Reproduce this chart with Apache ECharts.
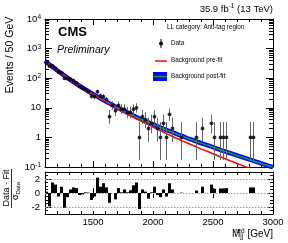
<!DOCTYPE html>
<html><head><meta charset="utf-8">
<script src="https://cdn.jsdelivr.net/npm/echarts@6/dist/echarts.min.js"></script>
<style>html,body{margin:0;padding:0;background:#fff}#c{width:288px;height:243px}</style>
</head><body><div id="c"></div>
<script>
// ---- data ----
const binCenters = [1112.5,1137.5,1162.5,1187.5,1212.5,1237.5,1262.5,1287.5,1312.5,1337.5,
  1362.5,1387.5,1412.5,1437.5,1462.5,1487.5,1512.5,1537.5,1562.5,1587.5,
  1612.5,1637.5,1662.5,1687.5,1712.5,1737.5,1762.5,1787.5,1812.5,1837.5,
  1862.5,1887.5,1912.5,1937.5,1962.5,1987.5,2012.5,2037.5,2062.5,2087.5,
  2112.5,2137.5,2162.5,2187.5,2212.5,2237.5,2262.5,2287.5,2312.5,2337.5,
  2362.5,2387.5,2412.5,2437.5,2462.5,2487.5,2512.5,2537.5,2562.5,2587.5,
  2612.5,2637.5,2662.5,2687.5,2712.5,2737.5,2762.5,2787.5,2812.5,2837.5,
  2862.5,2887.5,2912.5,2937.5,2962.5,2987.5];
const dataCounts = [350,256,263,218,162,154,98,97,93,82,
  70,53,46,42,36,25,24,35,25,24,
  19,5,12,8,12,9,9,7,7,9,
  10,1,5,4,2,3,5,2,1,3,
  1,6,2,null,null,1,null,null,null,null,
  1,null,2,null,null,3,1,null,1,1,
  1,null,null,null,null,null,null,null,1,1,
  null,null,null,null,null,null];
const residuals = [0.2,-1.9,1.5,1.2,-0.5,0.9,-2.1,-0.6,0.5,0.8,
  0.7,-0.3,-0.2,0.1,0.05,-1.0,-0.5,2.2,0.9,1.4,
  0.8,-1.4,0.0,-0.9,0.7,0.1,0.5,0.1,0.4,1.1,
  1.5,-2.3,0.5,0.2,-0.8,0.1,0.9,-0.3,-0.6,0.5,
  -0.5,1.4,0.5,null,null,0.05,null,null,null,null,
  0.35,null,0.9,null,null,1.2,0.6,null,0.65,0.65,
  0.7,null,null,null,null,null,null,null,0.8,0.8,
  null,null,null,null,null,null];
const binHalfWidth = 12.5;
const curveX = [1100,1150,1200,1250,1300,1350,1400,1450,1500,1550,1600,1650,1700,1750,1800,1850,1900,1950,2000,2050,2100,2150,2200,2250,2300,2350,2400,2450,2500,2550,2600,2650,2700,2750,2800,2850,2900,2950,3000];
const postFit = [380,263,185,132,95,69.7,51.5,38.5,29.0,22.1,17.0,13.2,10.3,8.11,6.41,5.15,4.15,3.37,2.75,2.25,1.86,1.55,1.29,1.08,0.90,0.76,0.64,0.55,0.465,0.395,0.335,0.287,0.245,0.21,0.18,0.154,0.132,0.114,0.098];
const preFit = [380,263,185,131.5,94.3,69.0,50.6,37.6,28.0,21.2,16.1,12.3,9.5,7.4,5.75,4.5,3.55,2.8,2.22,1.77,1.42,1.14,0.92,0.75,0.61,0.50,0.41,0.34,0.28,0.23,0.19,0.158,0.132,0.11,0.092,0.077,0.065,0.055,0.046];
const xLabelTicks = [1500,2000,2500,3000];
const yMinorTicks = [0.2,0.3,0.4,0.5,0.6,0.7,0.8,0.9,2,3,4,5,6,7,8,9,20,30,40,50,60,70,80,90,200,300,400,500,600,700,800,900,2000,3000,4000,5000,6000,7000,8000,9000];
const ratioLabelTicks = [-2,0,2];
// Garwood (68%) Poisson interval bounds for small counts n = 0..12
const garwoodLow  = [0,0.173,0.708,1.367,2.086,2.840,3.620,4.419,5.232,6.057,6.891,7.734,8.585];
const garwoodHigh = [1.841,3.300,4.638,5.918,7.163,8.382,9.584,10.77,11.95,13.11,14.27,15.42,16.56];

// ---- chart ----
const chart = echarts.init(document.getElementById('c'), null, {renderer:'canvas'});
const FONT = 'Liberation Sans';
const G0 = {left:45, right:15, top:19, height:148};
const G1 = {left:45, right:15, top:172, height:42};

function supFmt(v){
  const e = Math.round(Math.log10(v));
  if (e === 0) return '1';
  if (e === 1) return '10';
  return '10{s|' + e + '}';
}
const tickStyle = {lineStyle:{color:'#000', width:1}};
function xAx(grid, pos, opts){
  return Object.assign({type:'value', gridIndex:grid, position:pos, min:1100, max:3000, interval:100,
    axisLine:{show:true, onZero:false, lineStyle:{color:'#000', width:1}},
    axisTick:Object.assign({show:true, inside:true, length:3}, tickStyle),
    axisLabel:{show:false}, splitLine:{show:false}}, opts||{});
}
const xAxes = [
  xAx(0,'bottom'),
  xAx(0,'top'),
  xAx(1,'bottom',{axisLabel:{show:true, margin:3, fontFamily:FONT, fontSize:9.5, color:'#000',
      formatter:v=> (xLabelTicks.indexOf(v)>=0 ? String(v) : '')}}),
  xAx(1,'top'),
  xAx(0,'bottom',{axisLine:{show:false}, axisTick:{show:true, inside:true, length:6, customValues:xLabelTicks, lineStyle:{color:'#000'}}}),
  xAx(0,'top',{axisLine:{show:false}, axisTick:{show:true, inside:true, length:6, customValues:xLabelTicks, lineStyle:{color:'#000'}}}),
  xAx(1,'bottom',{axisLine:{show:false}, axisTick:{show:true, inside:true, length:5, customValues:xLabelTicks, lineStyle:{color:'#000'}}}),
  xAx(1,'top',{axisLine:{show:false}, axisTick:{show:true, inside:true, length:5, customValues:xLabelTicks, lineStyle:{color:'#000'}}})
];
function yLog(pos, opts){
  return Object.assign({type:'log', logBase:10, gridIndex:0, position:pos, min:0.1, max:10000,
    axisLine:{show:true, onZero:false, lineStyle:{color:'#000', width:1}},
    axisTick:Object.assign({show:true, inside:true, length:7}, tickStyle),
    axisLabel:{show:false}, splitLine:{show:false}}, opts||{});
}
function yRat(pos, opts){
  return Object.assign({type:'value', gridIndex:1, position:pos, min:-3, max:3, interval:0.5,
    axisLine:{show:true, onZero:false, lineStyle:{color:'#000', width:1}},
    axisTick:Object.assign({show:true, inside:true, length:3}, tickStyle),
    axisLabel:{show:false}, splitLine:{show:false}}, opts||{});
}
const yAxes = [
  yLog('left',{axisLabel:{show:true, margin:4, fontFamily:FONT, fontSize:9.5, color:'#000', formatter:supFmt,
     rich:{s:{fontFamily:FONT, fontSize:6.5, verticalAlign:'top', lineHeight:8, padding:[0,0,6,0]}}}}),
  yLog('right'),
  yLog('left',{axisLine:{show:false}, axisTick:{show:true, inside:true, length:4, customValues:yMinorTicks, lineStyle:{color:'#000'}}}),
  yLog('right',{axisLine:{show:false}, axisTick:{show:true, inside:true, length:4, customValues:yMinorTicks, lineStyle:{color:'#000'}}}),
  yRat('left',{axisLabel:{show:true, margin:5, fontFamily:FONT, fontSize:9.5, color:'#000',
      formatter:v=> (ratioLabelTicks.indexOf(v)>=0 ? String(v) : '')}}),
  yRat('right'),
  yRat('left',{axisLine:{show:false}, axisTick:{show:true, inside:true, length:6, customValues:ratioLabelTicks, lineStyle:{color:'#000'}}}),
  yRat('right',{axisLine:{show:false}, axisTick:{show:true, inside:true, length:6, customValues:ratioLabelTicks, lineStyle:{color:'#000'}}})
];

const pts = binCenters.map((x,i)=> dataCounts[i]==null ? null : [x, dataCounts[i]]).filter(Boolean);
const errs = pts.map(p=>{
  const n = p[1];
  const lo = n < garwoodLow.length ? garwoodLow[n] : n - Math.sqrt(n);
  const hi = n < garwoodHigh.length ? garwoodHigh[n] : n + Math.sqrt(n);
  return [p[0], lo, hi];
});
const resid = binCenters.map((x,i)=> residuals[i]==null ? null : [x, residuals[i]]).filter(Boolean);

chart.setOption({
  animation:false,
  backgroundColor:'#fff',
  grid:[Object.assign({show:false}, G0), Object.assign({show:false}, G1)],
  xAxis:xAxes,
  yAxis:yAxes,
  series:[
    {type:'line', name:'postband', xAxisIndex:0, yAxisIndex:0, data:curveX.map((x,i)=>[x,postFit[i]]),
      showSymbol:false, smooth:true, lineStyle:{color:'#0000ff', width:4.5}, clip:true, z:2},
    {type:'line', name:'post', xAxisIndex:0, yAxisIndex:0, data:curveX.map((x,i)=>[x,postFit[i]]),
      showSymbol:false, smooth:true, lineStyle:{color:'#00a050', width:1.5}, clip:true, z:3},
    {type:'line', name:'pre', xAxisIndex:0, yAxisIndex:0, data:curveX.map((x,i)=>[x,preFit[i]]),
      showSymbol:false, smooth:true, lineStyle:{color:'#ff0000', width:1.5}, clip:true, z:4},
    {type:'custom', name:'err', xAxisIndex:0, yAxisIndex:0, data:errs, clip:true, z:5,
      renderItem:function(params, api){
        const x = api.value(0), lo = Math.max(api.value(1), 0.1), hi = api.value(2);
        const p1 = api.coord([x, lo]), p2 = api.coord([x, hi]);
        return {type:'line', shape:{x1:p1[0], y1:p1[1], x2:p2[0], y2:p2[1]}, style:{stroke:'#666', lineWidth:1}};
      }},
    {type:'scatter', name:'Data', xAxisIndex:0, yAxisIndex:0, data:pts, symbol:'circle', symbolSize:3.8,
      itemStyle:{color:'#000'}, z:6},
    {type:'custom', name:'resid', xAxisIndex:2, yAxisIndex:4, data:resid, clip:true, z:5,
      renderItem:function(params, api){
        const x = api.value(0), v = api.value(1);
        const a = api.coord([x-binHalfWidth, 0]), b = api.coord([x+binHalfWidth, v]);
        return {type:'rect', shape:{x:a[0], y:Math.min(a[1],b[1]), width:b[0]-a[0], height:Math.abs(b[1]-a[1])},
          style:{fill:'#000'}};
      },
      markLine:{silent:true, symbol:'none', label:{show:false},
        lineStyle:{color:'#999', type:[1.5,1.5], width:1},
        data:[{yAxis:2},{yAxis:0},{yAxis:-2}]}}
  ],
  graphic:[
    {type:'text', right:15, top:3, style:{text:'35.9 fb{s|-1} (13 TeV)', fontFamily:FONT, fontSize:9.5, fill:'#000',
      rich:{s:{fontFamily:FONT, fontSize:6.5, verticalAlign:'top', padding:[0,0,5,0]}}}},
    {type:'text', left:58, top:26, style:{text:'CMS', fontFamily:FONT, fontWeight:'bold', fontSize:13, fill:'#000'}},
    {type:'text', left:57, top:45, style:{text:'Preliminary', fontFamily:FONT, fontStyle:'italic', fontSize:10.5, fill:'#000'}},
    {type:'text', left:167, top:24, style:{text:'LL category: Anti-tag region', fontFamily:FONT, fontSize:6.3, fill:'#000'}},
    {type:'line', shape:{x1:161, y1:39, x2:161, y2:48}, style:{stroke:'#000', lineWidth:1}},
    {type:'circle', shape:{cx:161, cy:43.5, r:2}, style:{fill:'#000'}},
    {type:'text', left:171, top:40, style:{text:'Data', fontFamily:FONT, fontSize:6.3, fill:'#000'}},
    {type:'line', shape:{x1:155, y1:61, x2:167, y2:61}, style:{stroke:'#ff0000', lineWidth:1.5}},
    {type:'text', left:171, top:57.5, style:{text:'Background pre-fit', fontFamily:FONT, fontSize:6.3, fill:'#000'}},
    {type:'rect', shape:{x:153, y:72, width:14, height:9}, style:{fill:'#0000ff'}},
    {type:'line', shape:{x1:153, y1:76.5, x2:167, y2:76.5}, style:{stroke:'#00a050', lineWidth:1.5}},
    {type:'text', left:171, top:73, style:{text:'Background post-fit', fontFamily:FONT, fontSize:6.3, fill:'#000'}},
    {type:'text', x:10, y:55, rotation:Math.PI/2, style:{text:'Events / 50 GeV', fontFamily:FONT, fontSize:10.5, fill:'#000', align:'center', verticalAlign:'middle'}},
    {type:'text', x:7, y:188, rotation:Math.PI/2, style:{text:'Data - Fit', fontFamily:FONT, fontSize:9, fill:'#000', align:'center', verticalAlign:'middle'}},
    {type:'line', shape:{x1:11.5, y1:169, x2:11.5, y2:208}, style:{stroke:'#000', lineWidth:0.8}},
    {type:'text', x:16, y:191, rotation:Math.PI/2, style:{text:'σ{s|Data}', fontFamily:FONT, fontSize:9, fill:'#000', align:'center', verticalAlign:'middle',
      rich:{s:{fontFamily:FONT, fontSize:6, verticalAlign:'bottom', padding:[4,0,0,0]}}}},
    {type:'text', right:15, top:228, style:{text:'M{b|jj}{t|red} [GeV]', fontFamily:FONT, fontSize:10, fill:'#000',
      rich:{b:{fontFamily:FONT, fontSize:6.5, verticalAlign:'bottom', padding:[5,0,0,0]}, t:{fontFamily:FONT, fontSize:6.5, verticalAlign:'top', padding:[0,0,5,-8]}}}}
  ]
});
</script></body></html>
